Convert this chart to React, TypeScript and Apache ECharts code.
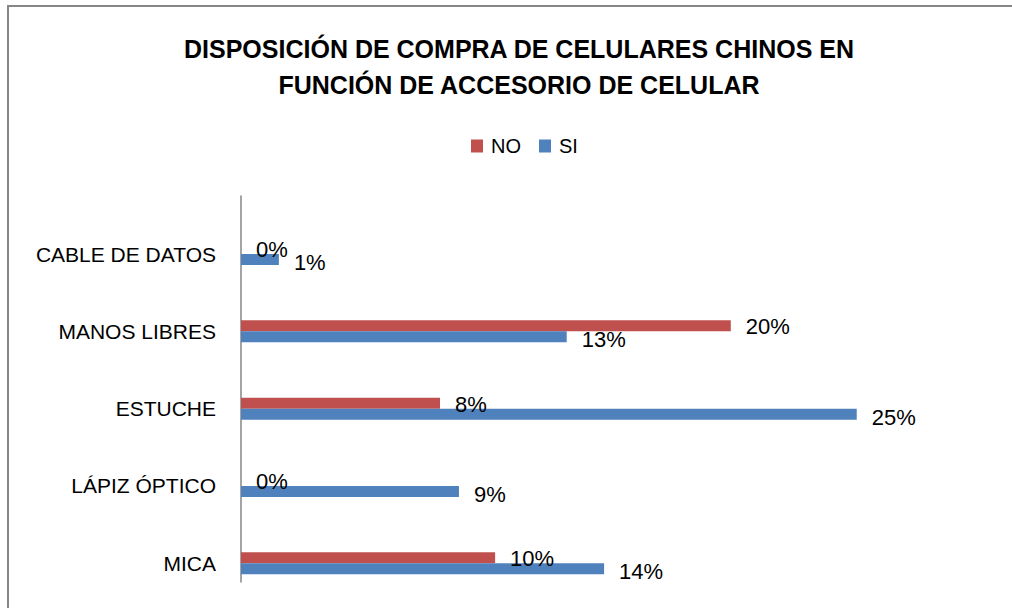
import React, { useEffect, useRef } from "react";
import * as echarts from "echarts";

const titleLines = [
  "DISPOSICIÓN DE COMPRA DE CELULARES CHINOS EN",
  "FUNCIÓN DE ACCESORIO DE CELULAR",
];
const categories = ["MICA", "LÁPIZ ÓPTICO", "ESTUCHE", "MANOS LIBRES", "CABLE DE DATOS"];
const seriesNames = ["NO", "SI"];
const noValues = [10.33, 0, 8.09, 19.91, 0];
const siValues = [14.76, 8.86, 25.03, 13.24, 1.54];
const noLabels = ["10%", "0%", "8%", "20%", "0%"];
const siLabels = ["14%", "9%", "25%", "13%", "1%"];
const axisMax = 30;

const RED = "#C0504D";
const BLUE = "#4F81BD";
const FONT = "Liberation Sans, Arial, sans-serif";

export default function App() {
  const ref = useRef<HTMLDivElement>(null);
  useEffect(() => {
    if (!ref.current) return;
    const chart = echarts.init(ref.current, undefined, { renderer: "svg" });
    chart.setOption({
      animation: false,
      backgroundColor: "#ffffff",
      title: {
        text: titleLines.join("\n"),
        left: 514,
        textAlign: "center",
        top: 26,
        textStyle: {
          fontFamily: FONT,
          fontWeight: "bold",
          fontSize: 25,
          lineHeight: 36,
          color: "#000",
        },
      },
      legend: {
        data: seriesNames,
        left: 466,
        top: 131,
        itemWidth: 12,
        itemHeight: 13,
        itemGap: 18,
        icon: "rect",
        textStyle: { fontFamily: FONT, fontSize: 20, color: "#000", padding: [0, 0, 0, 3] },
      },
      grid: [
        { left: 241, width: 738, top: 215.4, height: 386.5 },
        { left: 241, width: 738, top: 196, height: 386 },
      ],
      xAxis: [
        { type: "value", min: 0, max: axisMax, show: false, gridIndex: 0 },
        { type: "value", min: 0, max: axisMax, show: false, gridIndex: 1 },
      ],
      yAxis: [
        {
          type: "category",
          gridIndex: 0,
          data: categories,
          axisLine: { show: false },
          axisTick: { show: false },
          axisLabel: { fontFamily: FONT, fontSize: 21, color: "#000", margin: 25 },
        },
        {
          type: "category",
          gridIndex: 1,
          data: categories,
          axisLine: { show: true, onZero: false, lineStyle: { color: "#868686", width: 1.5 } },
          axisTick: { show: false },
          axisLabel: { show: false },
        },
      ],
      series: [
        {
          name: "NO",
          type: "bar",
          xAxisIndex: 0,
          yAxisIndex: 0,
          data: noValues,
          barWidth: 11,
          barGap: "0%",
          itemStyle: { color: RED },
          label: {
            show: true,
            position: "right",
            distance: 15,
            offset: [0, 1],
            fontFamily: FONT,
            fontSize: 22,
            color: "#000",
            formatter: (p: any) => noLabels[p.dataIndex],
          },
        },
        {
          name: "SI",
          type: "bar",
          xAxisIndex: 0,
          yAxisIndex: 0,
          data: siValues,
          barWidth: 11,
          barGap: "0%",
          itemStyle: { color: BLUE },
          label: {
            show: true,
            position: "right",
            distance: 15,
            offset: [0, 3],
            fontFamily: FONT,
            fontSize: 22,
            color: "#000",
            formatter: (p: any) => siLabels[p.dataIndex],
          },
        },
      ],
      graphic: [
        {
          type: "rect",
          shape: { x: 8, y: 6, width: 1100, height: 700 },
          style: { fill: "none", stroke: "#868686", lineWidth: 2 },
          silent: true,
        },
      ],
    });
    return () => chart.dispose();
  }, []);
  return (
    <div
      ref={ref}
      style={{ position: "absolute", left: 0, top: 0, width: 1012, height: 608 }}
    />
  );
}
